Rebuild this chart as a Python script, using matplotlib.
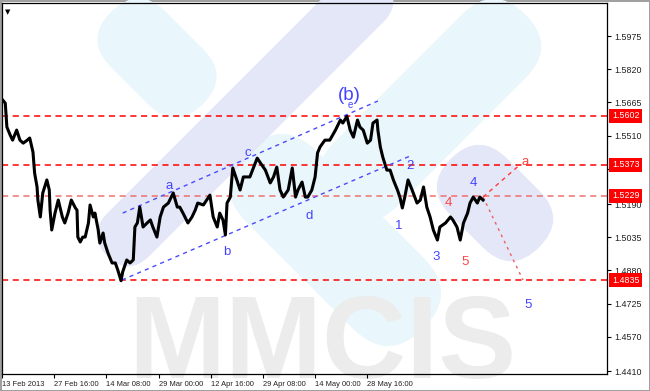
import matplotlib
matplotlib.use('Agg')
import matplotlib.pyplot as plt
import matplotlib.transforms as mtransforms
from matplotlib.patches import FancyBboxPatch

# H4 bars counted from 13 Feb 2013, price
bars = [0, 4, 6, 10, 13, 18, 22, 26, 31, 34,
        38, 40, 43, 44, 47, 50, 55, 58, 59, 61,
        65, 69, 74, 77, 81, 85, 90, 92, 93, 96,
        99, 102, 106, 108, 112, 114, 118, 120, 124, 126,
        130, 135, 139, 142, 146, 148, 153, 157, 161, 163,
        166, 169, 173, 178, 182, 185, 190, 194, 198, 204,
        210, 215, 218, 222, 228, 233, 237, 240, 247, 255,
        259, 264, 267, 271, 274, 276, 280, 283, 288, 292,
        296, 304, 313, 317, 323, 329, 333, 337, 341, 345,
        351, 356, 360, 363, 368, 372, 375, 380, 384, 387,
        390, 396, 402, 409, 415, 418, 423, 427, 431, 436,
        439, 443, 448, 452, 455, 460, 461, 464, 467, 472,
        476, 480, 485, 488, 491, 494, 498, 503, 509, 513,
        517, 521, 525, 529, 534, 537, 544, 550, 553, 558,
        562, 566, 571, 574, 578, 583, 586, 590]
price = [1.5680, 1.5662, 1.5550, 1.5513, 1.5489, 1.5536, 1.5489, 1.5475, 1.5489, 1.5499,
         1.5433, 1.5335, 1.5270, 1.5209, 1.5130, 1.5242, 1.5303, 1.5256, 1.5162, 1.5069,
         1.5148, 1.5209, 1.5130, 1.5102, 1.5148, 1.5209, 1.5172, 1.5162, 1.5036, 1.5013,
         1.5036, 1.5036, 1.5102, 1.5186, 1.5130, 1.5148, 1.5069, 1.5008, 1.5055, 1.5008,
         1.4961, 1.4915, 1.4915, 1.4882, 1.4832, 1.4873, 1.4929, 1.4915, 1.4929, 1.5083,
         1.5102, 1.5176, 1.5083, 1.5102, 1.5116, 1.5083, 1.5036, 1.5130, 1.5176, 1.5195,
         1.5242, 1.5176, 1.5176, 1.5148, 1.5102, 1.5130, 1.5162, 1.5195, 1.5186, 1.5232,
         1.5130, 1.5083, 1.5148, 1.5116, 1.5046, 1.5195, 1.5223, 1.5359, 1.5303, 1.5256,
         1.5317, 1.5317, 1.5405, 1.5382, 1.5349, 1.5289, 1.5317, 1.5363, 1.5256, 1.5223,
         1.5256, 1.5359, 1.5223, 1.5256, 1.5293, 1.5223, 1.5223, 1.5256, 1.5317, 1.5429,
         1.5457, 1.5489, 1.5489, 1.5536, 1.5583, 1.5569, 1.5600, 1.5536, 1.5503, 1.5583,
         1.5550, 1.5536, 1.5475, 1.5489, 1.5569, 1.5583, 1.5536, 1.5457, 1.5410, 1.5349,
         1.5349, 1.5303, 1.5256, 1.5223, 1.5172, 1.5223, 1.5303, 1.5256, 1.5195, 1.5209,
         1.5270, 1.5176, 1.5130, 1.5069, 1.5022, 1.5083, 1.5102, 1.5130, 1.5116, 1.5083,
         1.5022, 1.5102, 1.5148, 1.5195, 1.5223, 1.5195, 1.5223, 1.5209]

levels = [1.5602, 1.5373, 1.5229, 1.4835]
level_colors = ['#ff0000', '#ff0000', '#f07070', '#ff0000']

yticks = [1.5975, 1.5820, 1.5665, 1.5510, 1.5355, 1.5190, 1.5035, 1.4880, 1.4725, 1.4570, 1.4410]
xtick_bars = [0, 64, 128, 192, 256, 320, 384, 448]
xtick_labels = ['13 Feb 2013', '27 Feb 16:00', '14 Mar 08:00', '29 Mar 00:00',
                '12 Apr 16:00', '29 Apr 08:00', '14 May 00:00', '28 May 16:00']

# wave channel and projections (bar, price)
chan_top_x, chan_top_y = [148, 461], [1.5148, 1.5672]
chan_bot_x, chan_bot_y = [147, 503], [1.4835, 1.5419]
proj_up_x, proj_up_y = [590, 633], [1.5223, 1.5367]
proj_dn_x, proj_dn_y = [590, 639], [1.5223, 1.4835]

wave_text = ['a', 'b', 'c', 'd', 'e', '1', '2', '3', '4', '5', '4', '5', 'a']
wave_bar = [205, 276, 301, 377, 427, 487, 501, 533, 578, 645, 547, 568, 642]
wave_price = [1.5274, 1.4966, 1.5429, 1.5134, 1.5653, 1.5088, 1.5368, 1.4943, 1.5289, 1.4718,
              1.5195, 1.4919, 1.5387]
wave_color = ['#4444ff'] * 10 + ['#ff4444'] * 3

W, H = 650, 391
fig = plt.figure(figsize=(6.5, 3.91), dpi=100)
fig.patch.set_facecolor('white')
fig.patch.set_edgecolor('#a0a0a0')
fig.patch.set_linewidth(1)

# watermark layer in pixel coordinates
bg = fig.add_axes([0, 0, 1, 1], zorder=0)
bg.set_xlim(0, W)
bg.set_ylim(H, 0)
bg.axis('off')


def band(cx, cy, length, width, angle, color):
    p = FancyBboxPatch((cx - length / 2, cy - width / 2), length, width,
                       boxstyle='round,pad=0,rounding_size=%f' % (width / 2),
                       facecolor=color, edgecolor='none')
    p.set_transform(mtransforms.Affine2D().rotate_deg_around(cx, cy, angle) + bg.transData)
    bg.add_patch(p)


cyan = '#e9f6fc'
lav = '#e3e7f7'
band(157, 58, 130, 78, 45, cyan)
band(335, 240, 250, 100, 45, cyan)
band(430, 110, 270, 90, -45, cyan)
band(245, 118, 390, 60, -45, lav)
band(495, 203, 125, 80, 45, lav)
bg.text(322, 378, 'MMCIS', ha='center', va='baseline', fontsize=84,
        family='Liberation Sans', fontweight='bold', color='#ececec')

ax = fig.add_axes([2 / W, 1 - 374 / H, 605 / W, 371 / H], zorder=1)
ax.set_facecolor('none')
ax.set_xlim(0, 742)
ax.set_ylim(1.4396, 1.6130)

for lv, c in zip(levels, level_colors):
    ax.axhline(lv, color=c, lw=1.1, dashes=(4, 3), zorder=2)

ax.plot(chan_top_x, chan_top_y, color='#4a4aff', lw=1, dashes=(3, 3), zorder=3)
ax.plot(chan_bot_x, chan_bot_y, color='#4a4aff', lw=1, dashes=(3, 3), zorder=3)
ax.plot(proj_up_x, proj_up_y, color='#ff3a3a', lw=1, dashes=(3, 3), zorder=3)
ax.plot(proj_dn_x, proj_dn_y, color='#f06060', lw=1, dashes=(2, 3), zorder=3)

ax.plot(bars, price, color='black', lw=2.2, zorder=4)

for t, b, p, c in zip(wave_text, wave_bar, wave_price, wave_color):
    fs = 7 if t == 'e' else 9.5
    ax.text(b, p, t, color=c, fontsize=fs, family='Liberation Sans',
            ha='center', va='center', zorder=5)
ax.text(426, 1.5700, '(b)', color='#4444ff', fontsize=13.5, family='Liberation Sans',
        ha='center', va='center', zorder=5)

ax.text(0.01, 0.976, '\u25bc', transform=ax.transAxes, fontsize=5, ha='center', va='center')

ax.yaxis.tick_right()
ax.set_yticks(yticks)
ax.set_yticklabels(['%.4f' % v for v in yticks], fontsize=6.4, family='Liberation Sans', color='#202020')
ax.set_xticks(xtick_bars)
ax.set_xticklabels(xtick_labels, fontsize=5.4, family='Liberation Sans', ha='left', color='#202020')
ax.tick_params(axis='y', length=3, width=0.8, pad=2)
ax.tick_params(axis='x', length=3, width=0.8, pad=2)
for s in ax.spines.values():
    s.set_linewidth(0.9)

# level price tags on the axis
for lv in levels:
    ax.text(1.0085, lv, '%.4f' % lv, transform=ax.get_yaxis_transform(),
            fontsize=6.4, family='Liberation Sans', color='white', ha='left', va='center',
            clip_on=False, zorder=6,
            bbox=dict(boxstyle='square,pad=0.3', facecolor='#ff0000', edgecolor='none'))

fig.savefig('out.png', dpi=100, facecolor='white', edgecolor='#a0a0a0')
